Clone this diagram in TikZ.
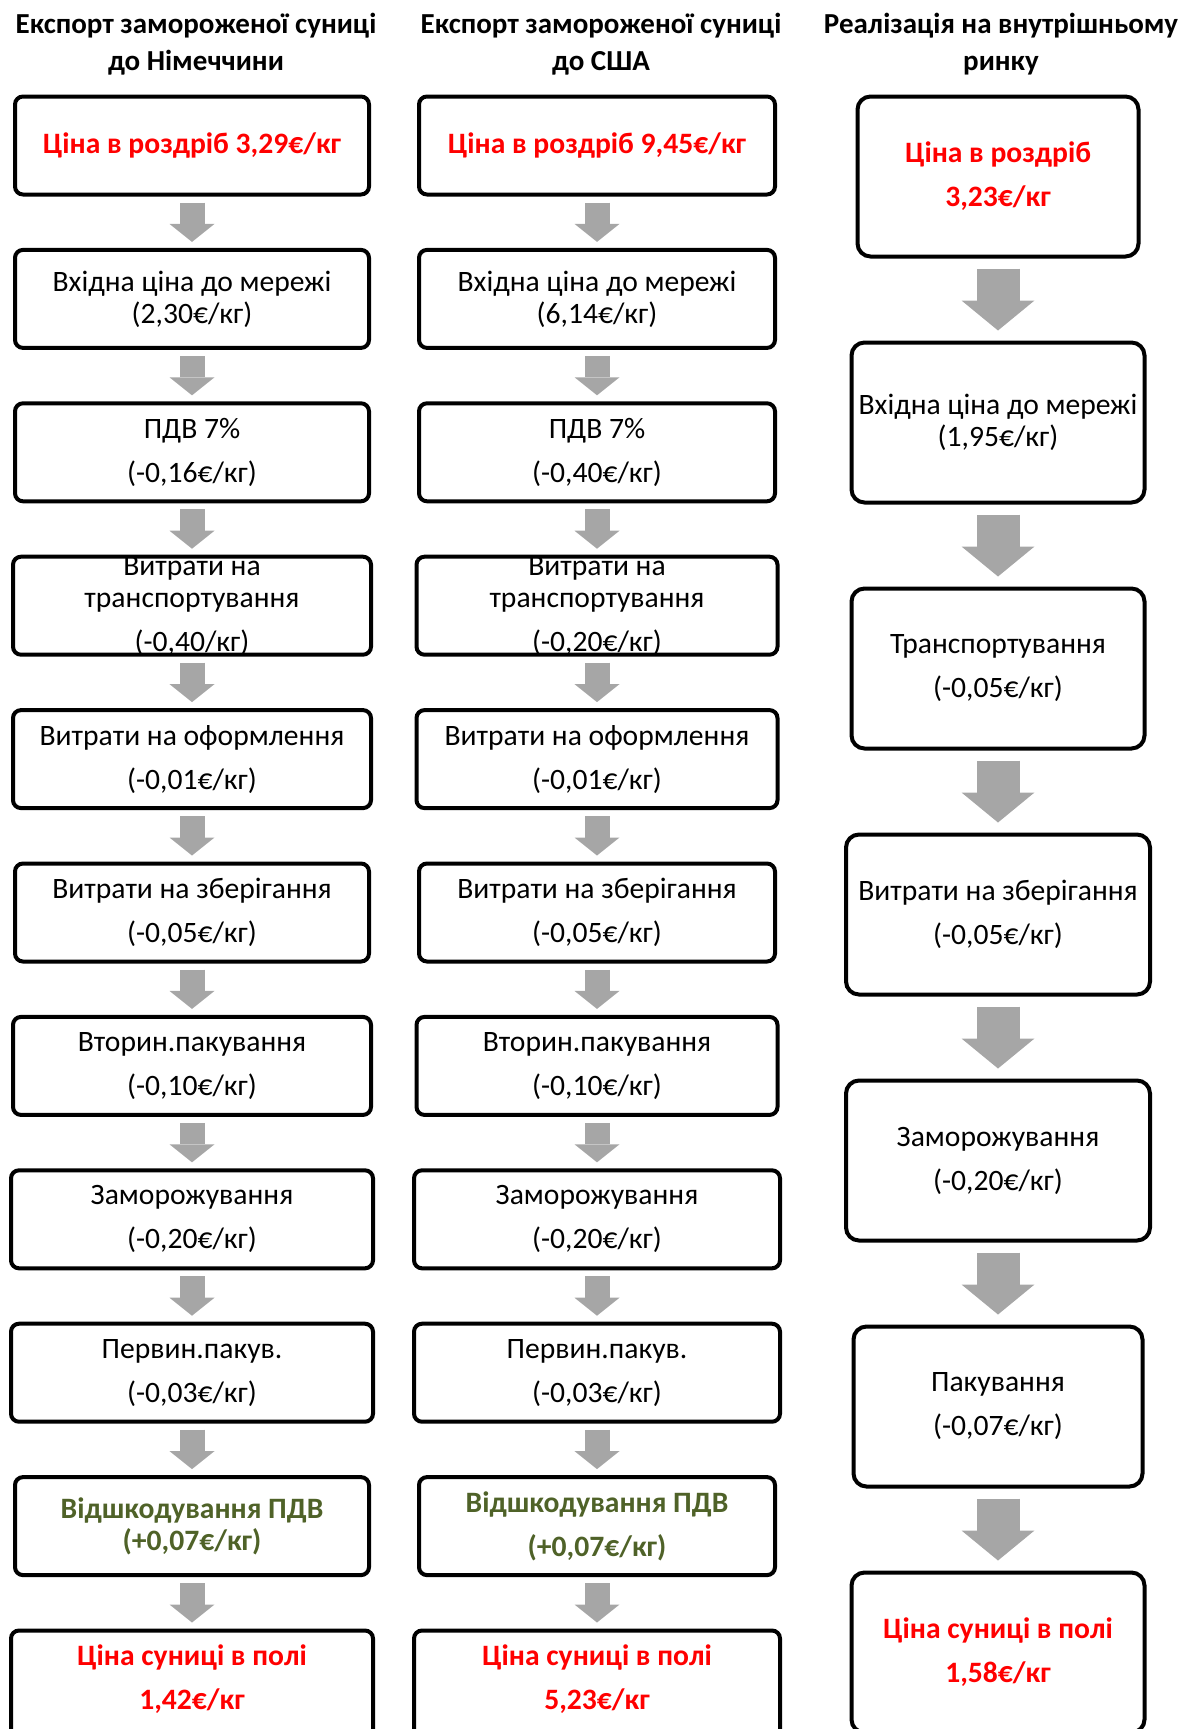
\documentclass[tikz,border=0pt]{standalone}
\usepackage{fontspec}
\setmainfont{Carlito}
\usetikzlibrary{positioning,arrows.meta}
\definecolor{chervonyi}{HTML}{FF0000}
\definecolor{olyvka}{HTML}{4F6228}
\definecolor{siryi}{HTML}{A6A6A6}

\begin{document}
\begin{tikzpicture}[x=0.5pt,y=-0.5pt,
      node distance=27.7pt,
      tekst/.style={align=center,font=\fontsize{14.8}{16}\selectfont},
      blok/.style={tekst,draw=black,line width=2pt,rounded corners=4pt,outer sep=0pt,
                   inner sep=2pt,minimum width=177pt,minimum height=49pt},
      vblok/.style={blok,rounded corners=6.5pt,minimum width=146.5pt,minimum height=80pt},
      cina/.style={text=chervonyi,font=\bfseries\fontsize{14.8}{16}\selectfont},
      zelen/.style={text=olyvka,font=\bfseries\fontsize{14.8}{16}\selectfont},
      zagol/.style={align=center,font=\bfseries\fontsize{14.5}{18.5}\selectfont},
      strilka/.style={draw=siryi,line width=12.5pt,shorten <=4pt,shorten >=4pt,
                      -{Triangle[length=9pt,width=22.5pt,line width=0pt]}},
      vstrilka/.style={draw=siryi,line width=21.5pt,shorten <=6pt,shorten >=6pt,
                      -{Triangle[length=15pt,width=36.5pt,line width=0pt]}}]
    \useasboundingbox (0,0) rectangle (1184,1729);
    \clip (0,0) rectangle (1184,1729);
    % headers
    \node[zagol] (z1) at (196,44.5) {Експорт замороженої суниці\\до Німеччини};
    \node[zagol] (z2) at (601,44.5) {Експорт замороженої суниці\\до США};
    \node[zagol] (z3) at (1001,44.5) {Реалізація на внутрішньому\\ринку};
    % Germany
    \node[blok,cina] (n1) at (192,145.5) {Ціна в роздріб 3,29€/кг};
    \node[blok,below=of n1] (n2) {Вхідна ціна до мережі\\(2,30€/кг)};
    \node[blok,below=of n2] (n3) {ПДВ 7\%\\[6pt](-0,16€/кг)};
    \node[blok,below=of n3,minimum width=179pt,
          label={[tekst]center:{Витрати на\\транспортування\\[6pt](-0,40/кг)}}] (n4) {};
    \node[blok,below=of n4,minimum width=179pt] (n5) {Витрати на оформлення\\[6pt](-0,01€/кг)};
    \node[blok,below=of n5] (n6) {Витрати на зберігання\\[6pt](-0,05€/кг)};
    \node[blok,below=of n6,minimum width=179pt] (n7) {Вторин.пакування\\[6pt](-0,10€/кг)};
    \node[blok,below=of n7,minimum width=181pt] (n8) {Заморожування\\[6pt](-0,20€/кг)};
    \node[blok,below=of n8,minimum width=181pt] (n9) {Первин.пакув.\\[6pt](-0,03€/кг)};
    \node[blok,zelen,below=of n9] (n10) {Відшкодування ПДВ\\(+0,07€/кг)};
    \node[blok,below=of n10,minimum width=181pt,minimum height=70pt,
          label={[tekst,cina,yshift=10.5pt]center:{Ціна суниці в полі\\[6pt]1,42€/кг}}] (n11) {};
    % USA
    \node[blok,cina,minimum width=178pt] (s1) at (597,145.5) {Ціна в роздріб 9,45€/кг};
    \node[blok,below=of s1,minimum width=178pt] (s2) {Вхідна ціна до мережі\\(6,14€/кг)};
    \node[blok,below=of s2,minimum width=178pt] (s3) {ПДВ 7\%\\[6pt](-0,40€/кг)};
    \node[blok,below=of s3,minimum width=180.5pt,
          label={[tekst]center:{Витрати на\\транспортування\\[6pt](-0,20€/кг)}}] (s4) {};
    \node[blok,below=of s4,minimum width=180.5pt] (s5) {Витрати на оформлення\\[6pt](-0,01€/кг)};
    \node[blok,below=of s5,minimum width=178pt] (s6) {Витрати на зберігання\\[6pt](-0,05€/кг)};
    \node[blok,below=of s6,minimum width=180.5pt] (s7) {Вторин.пакування\\[6pt](-0,10€/кг)};
    \node[blok,below=of s7,minimum width=183pt] (s8) {Заморожування\\[6pt](-0,20€/кг)};
    \node[blok,below=of s8,minimum width=183pt] (s9) {Первин.пакув.\\[6pt](-0,03€/кг)};
    \node[blok,zelen,below=of s9,minimum width=178pt] (s10) {Відшкодування ПДВ\\[6pt](+0,07€/кг)};
    \node[blok,below=of s10,minimum width=183pt,minimum height=70pt,
          label={[tekst,cina,yshift=10.5pt]center:{Ціна суниці в полі\\[6pt]5,23€/кг}}] (s11) {};
    % home market
    \node[vblok,cina,minimum width=140.5pt] (r1) at (998,176.5) {Ціна в роздріб\\[6pt]3,23€/кг};
    \node[vblok,below=43pt of r1] (r2) {Вхідна ціна до мережі\\(1,95€/кг)};
    \node[vblok,below=43pt of r2] (r3) {Транспортування\\[6pt](-0,05€/кг)};
    \node[vblok,below=43pt of r3,minimum width=152pt] (r4) {Витрати на зберігання\\[6pt](-0,05€/кг)};
    \node[vblok,below=43pt of r4,minimum width=152pt] (r5) {Заморожування\\[6pt](-0,20€/кг)};
    \node[vblok,below=43pt of r5,minimum width=144.5pt] (r6) {Пакування\\[6pt](-0,07€/кг)};
    \node[vblok,cina,below=43pt of r6] (r7) {Ціна суниці в полі\\[6pt]1,58€/кг};
    % arrows
    \draw[strilka] (n1) -- (n2);
    \draw[strilka] (n2) -- (n3);
    \draw[strilka] (n3) -- (n4);
    \draw[strilka] (n4) -- (n5);
    \draw[strilka] (n5) -- (n6);
    \draw[strilka] (n6) -- (n7);
    \draw[strilka] (n7) -- (n8);
    \draw[strilka] (n8) -- (n9);
    \draw[strilka] (n9) -- (n10);
    \draw[strilka] (n10) -- (n11);
    \draw[strilka] (s1) -- (s2);
    \draw[strilka] (s2) -- (s3);
    \draw[strilka] (s3) -- (s4);
    \draw[strilka] (s4) -- (s5);
    \draw[strilka] (s5) -- (s6);
    \draw[strilka] (s6) -- (s7);
    \draw[strilka] (s7) -- (s8);
    \draw[strilka] (s8) -- (s9);
    \draw[strilka] (s9) -- (s10);
    \draw[strilka] (s10) -- (s11);
    \draw[vstrilka] (r1) -- (r2);
    \draw[vstrilka] (r2) -- (r3);
    \draw[vstrilka] (r3) -- (r4);
    \draw[vstrilka] (r4) -- (r5);
    \draw[vstrilka] (r5) -- (r6);
    \draw[vstrilka] (r6) -- (r7);
  \end{tikzpicture}
\end{document}
